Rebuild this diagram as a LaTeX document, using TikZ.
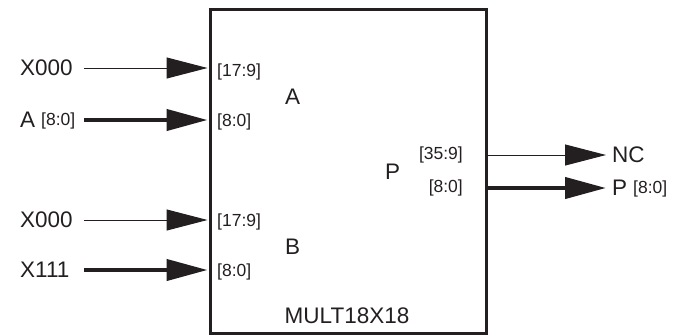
\documentclass[tikz,border=0pt]{standalone}
\usepackage{fontspec}
\setmainfont{Liberation Sans}
\usetikzlibrary{arrows.meta}
\definecolor{ink}{RGB}{35,31,32}
\begin{document}
\begin{tikzpicture}[x=1pt,y=-1pt, every node/.style={text=ink},
  big/.style={font=\fontsize{22.5}{27}\selectfont, inner sep=0pt, anchor=west},
  small/.style={font=\fontsize{17.5}{21}\selectfont, inner sep=0pt, anchor=west},
  smallr/.style={small, anchor=east},
  wire/.style={draw=ink, -{Triangle[length=41pt,width=21pt]}},
  thinwire/.style={wire, line width=1pt},
  thickwire/.style={wire, line width=4.2pt},
]
\useasboundingbox (0,0) rectangle (687,335);
\node[draw=ink, line width=2.5pt, minimum width=276pt, minimum height=324pt, inner sep=0pt, anchor=north west] (mult) at (209,8) {};
% left labels
\node[big] (lx1) at (20,68) {X000};
\node[big] (la) at (20,120) {A};
\node[small] (la8) at (41,121) {[8:0]};
\node[big] (lx2) at (20,220) {X000};
\node[big] (lx3) at (20,270) {X111};
\coordinate (s1) at (84,68);
\coordinate (s2) at (84,120);
\coordinate (s3) at (84,220);
\coordinate (s4) at (84,270);
\draw[thinwire, shorten >=1.5pt] (s1) -- (s1 -| mult.west);
\draw[thickwire, shorten >=1.5pt] (s2) -- (s2 -| mult.west);
\draw[thinwire, shorten >=1.5pt] (s3) -- (s3 -| mult.west);
\draw[thickwire, shorten >=1.5pt] (s4) -- (s4 -| mult.west);
% inner labels
\node[small] (ia1) at (217,72) {[17:9]};
\node[small] (ia2) at (217,122) {[8:0]};
\node[big] (na) at (285,97) {A};
\node[small] (ib1) at (217,222) {[17:9]};
\node[small] (ib2) at (217,272) {[8:0]};
\node[big] (nb) at (285,247) {B};
\node[big] (np) at (385,172) {P};
\node[smallr] (ip1) at (463,155) {[35:9]};
\node[smallr] (ip2) at (463,188) {[8:0]};
\node[big, anchor=center] (name) at (347,316) {MULT18X18};
% outputs
\node[big] (nc) at (612,155) {NC};
\node[big] (op) at (612,188) {P};
\node[small] (op8) at (633,189) {[8:0]};
\draw[thinwire, shorten >=6pt] (nc.west -| mult.east) -- (nc.west);
\draw[thickwire, shorten >=6pt] (op.west -| mult.east) -- (op.west);
\end{tikzpicture}
\end{document}
